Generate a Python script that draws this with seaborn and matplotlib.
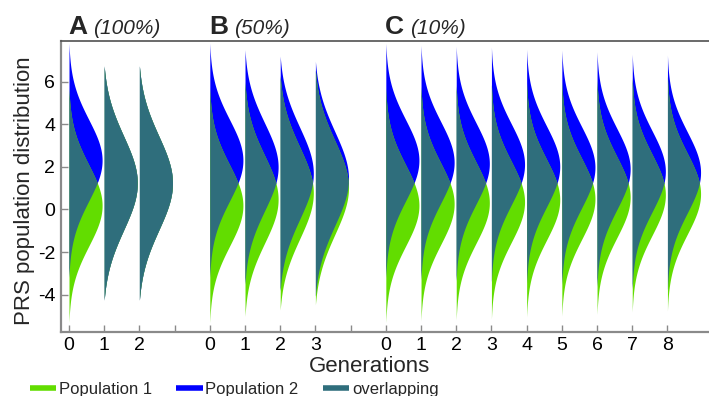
import numpy as np
import seaborn as sns
import matplotlib.pyplot as plt
from matplotlib.lines import Line2D

# Panels: letter, share of migrants, generations shown
panel_letters = ["A", "B", "C"]
panel_rates = ["(100%)", "(50%)", "(10%)"]
panel_generations = [[0, 1, 2], [0, 1, 2, 3], [0, 1, 2, 3, 4, 5, 6, 7, 8]]

# PRS distribution of each population per generation
pop1_mean = [0.19, 1.24, 1.24,
             0.19, 0.48, 0.78, 1.03,
             0.19, 0.27, 0.32, 0.36, 0.46, 0.50, 0.58, 0.69, 0.74]
pop2_mean = [2.31, 1.24, 1.24,
             2.31, 2.00, 1.70, 1.45,
             2.31, 2.21, 2.16, 2.12, 2.02, 1.98, 1.90, 1.79, 1.74]
pop_sd = [1.9, 2.2, 2.2,
          1.9, 2.05, 2.15, 2.2,
          1.9, 1.9, 1.9, 1.9, 1.9, 1.9, 1.9, 1.9, 1.9]
tail_cut = 5.5          # curves stop this far from their mean

legend_labels = ["Population 1", "Population 2", "overlapping"]
green, blue, teal = "#62DD00", "#0000FF", "#2F6E7C"

sns.set_theme(style="ticks")
plt.rcParams["font.family"] = ["Liberation Sans", "DejaVu Sans"]
plt.rcParams["axes.unicode_minus"] = False

fig = plt.figure(figsize=(7.09, 3.96), dpi=100)
ax = fig.add_axes([0.0856, 0.1624, 0.9144, 0.7341])

# x slots: one per generation, with an empty slot between panels
positions, tick_pos, tick_lab, panel_start = [], [], [], []
slot = 0
for i, gens in enumerate(panel_generations):
    panel_start.append(slot)
    for g in gens:
        positions.append(slot)
        tick_pos.append(slot)
        tick_lab.append(str(g))
        slot += 1
    if i < len(panel_generations) - 1:
        tick_pos.append(slot)
        tick_lab.append("")
        slot += 1


def half_density(y, mean, sd):
    # bell curve scaled to 1 at the peak, brought down to 0 at the cut
    tip = np.exp(-0.5 * (tail_cut / sd) ** 2)
    d = (np.exp(-0.5 * ((y - mean) / sd) ** 2) - tip) / (1 - tip)
    return np.clip(d, 0, None)


# half violins: population 2, population 1, then their overlap on top
half_width = 0.94
for x, m1, m2, sd in zip(positions, pop1_mean, pop2_mean, pop_sd):
    y = np.linspace(min(m1, m2) - tail_cut, max(m1, m2) + tail_cut, 800)
    d1 = half_density(y, m1, sd) * half_width
    d2 = half_density(y, m2, sd) * half_width
    ax.fill_betweenx(y, x, x + d2, color=blue, lw=0)
    ax.fill_betweenx(y, x, x + d1, color=green, lw=0)
    ax.fill_betweenx(y, x, x + np.minimum(d1, d2), color=teal, lw=0)

ax.set_xlim(-0.236, 18.18)
ax.set_ylim(-5.74, 7.91)
ax.set_xticks(tick_pos)
ax.set_xticklabels(tick_lab)
ax.set_yticks([-4, -2, 0, 2, 4, 6])
ax.tick_params(direction="in", length=5, width=1, color="#8a8a8a",
               labelsize=14, labelcolor="black", pad=4)

for side in ["left", "bottom"]:
    ax.spines[side].set_color("#8a8a8a")
    ax.spines[side].set_linewidth(1.6)
ax.spines["top"].set_visible(True)
ax.spines["top"].set_color("#505050")
ax.spines["top"].set_linewidth(1.2)
ax.spines["right"].set_visible(False)

ax.set_xlabel("Generations", fontsize=16, va="baseline")
ax.xaxis.set_label_coords(0.477, -0.1386)
ax.set_ylabel("PRS population distribution", fontsize=16)
ax.yaxis.set_label_coords(-0.039, 0.484)

# panel titles
for start, letter, rate in zip(panel_start, panel_letters, panel_rates):
    tr = ax.get_xaxis_transform()
    ax.text(start - 0.03, 1.0224, letter, transform=tr, fontsize=19,
            fontweight="bold", va="baseline", ha="left")
    ax.text(start + 0.68, 1.0224, rate, transform=tr, fontsize=15,
            fontstyle="italic", va="baseline", ha="left")

handles = [Line2D([], [], color=c, lw=4, solid_capstyle="butt") for c in [green, blue, teal]]
fig.legend(handles, legend_labels, loc="center left", bbox_to_anchor=(0.042, 0.016),
           ncol=3, frameon=False, fontsize=12, handlelength=1.6, handletextpad=0.15,
           columnspacing=1.45, borderpad=0, borderaxespad=0)

fig.savefig("out.png", dpi=100)
